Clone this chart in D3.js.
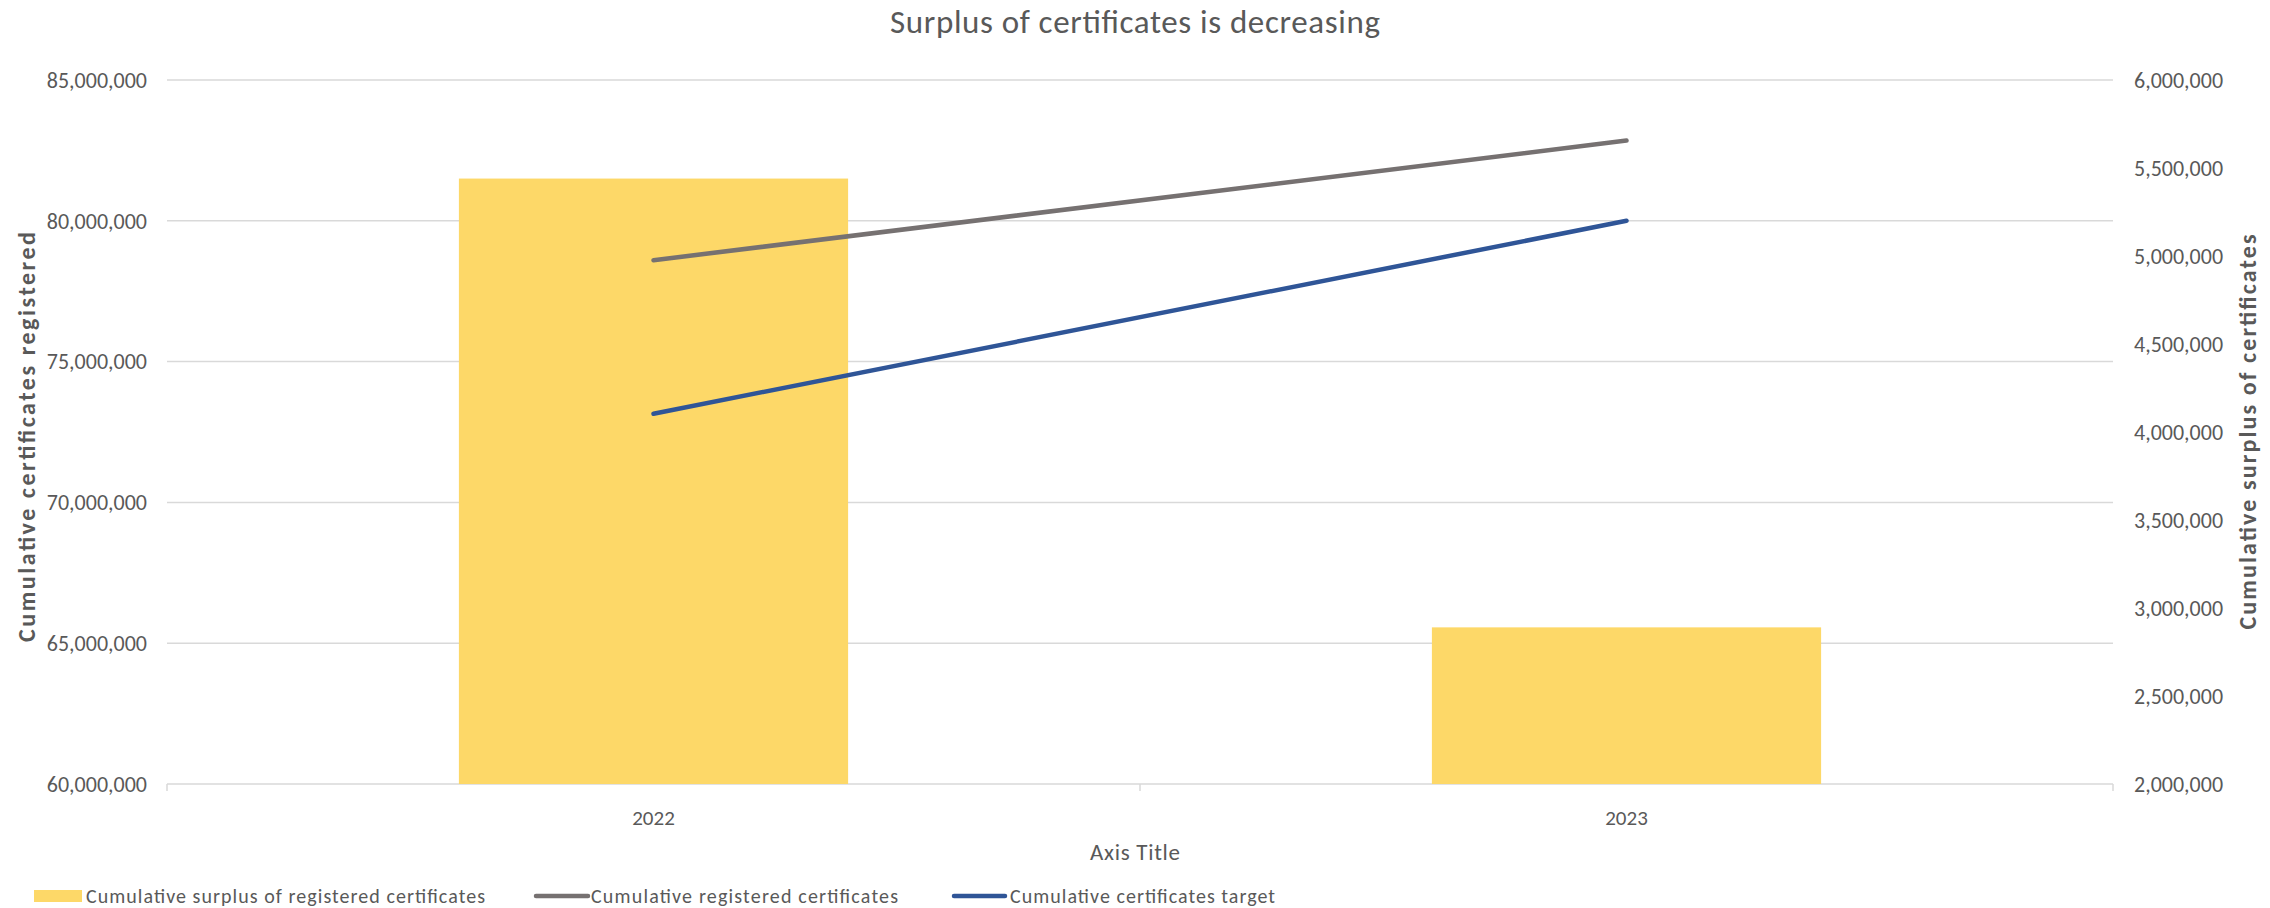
<!DOCTYPE html>
<html><head><meta charset="utf-8">
<script src="https://cdn.jsdelivr.net/npm/d3@7"></script>
<style>
html,body{margin:0;padding:0;background:#fff;}
text{font-family:Carlito,Calibri,Lato,sans-serif;fill:#595959;}
</style></head><body>
<svg id="chart" width="2270" height="908"></svg>
<script>
const categories = ["2022", "2023"];
const surplus = [5440000, 2890000];          // bars, right axis
const registered = [78600000, 82850000];     // grey line, left axis
const target = [73150000, 80000000];         // blue line, left axis
const leftTicks = [60000000, 65000000, 70000000, 75000000, 80000000, 85000000];
const rightTicks = [2000000, 2500000, 3000000, 3500000, 4000000, 4500000, 5000000, 5500000, 6000000];
const seriesNames = ["Cumulative surplus of registered certificates", "Cumulative registered certificates", "Cumulative certificates target"];
const colors = ["#FDD868", "#767171", "#2F5597"];

const W = 2270, H = 908;
const m = {left:167, right:W-2113, top:80, bottom:H-784};
const svg = d3.select("#chart");
const pw = W - m.left - m.right, ph = H - m.top - m.bottom;
const g = svg.append("g").attr("transform", `translate(${m.left},${m.top})`);

const x = d3.scaleBand().domain(categories).range([0, pw]).paddingInner(0).paddingOuter(0);
const yL = d3.scaleLinear().domain([60000000, 85000000]).range([ph, 0]);
const yR = d3.scaleLinear().domain([2000000, 6000000]).range([ph, 0]);
const fmt = d3.format(",");

// gridlines
g.append("g").selectAll("line").data(leftTicks).join("line")
  .attr("x1", 0).attr("x2", pw).attr("y1", d=>yL(d)).attr("y2", d=>yL(d))
  .attr("stroke", "#D9D9D9").attr("stroke-width", 1.5);

// x ticks
const xt = [0, x.step(), pw];
g.append("g").selectAll("line").data(xt).join("line")
  .attr("x1", d=>d).attr("x2", d=>d).attr("y1", ph).attr("y2", ph+7)
  .attr("stroke", "#D9D9D9").attr("stroke-width", 1.5);

// bars
const bw = x.bandwidth()*0.4;
g.append("g").selectAll("rect").data(categories).join("rect")
  .attr("x", d=>x(d)+x.bandwidth()/2-bw/2).attr("width", bw)
  .attr("y", (d,i)=>yR(surplus[i])).attr("height", (d,i)=>ph-yR(surplus[i]))
  .attr("fill", colors[0]);

// lines
const line = (arr) => d3.line().x((d,i)=>x(categories[i])+x.bandwidth()/2).y(d=>yL(d))(arr);
[[registered, colors[1]], [target, colors[2]]].forEach(([arr,c])=>{
  g.append("path").attr("d", line(arr)).attr("fill","none").attr("stroke", c)
   .attr("stroke-width", 4.5).attr("stroke-linecap","round");
});

// left axis labels
g.append("g").selectAll("text").data(leftTicks).join("text")
  .attr("x", -20).attr("y", d=>yL(d)).attr("dy","0.35em").attr("text-anchor","end")
  .attr("font-size", 22).text(d=>fmt(d));
// right axis labels
g.append("g").selectAll("text").data(rightTicks).join("text")
  .attr("x", pw+21).attr("y", d=>yR(d)).attr("dy","0.35em").attr("text-anchor","start")
  .attr("font-size", 22).text(d=>fmt(d));
// x labels
g.append("g").selectAll("text").data(categories).join("text")
  .attr("x", d=>x(d)+x.bandwidth()/2).attr("y", ph+34).attr("dy","0.35em")
  .attr("text-anchor","middle").attr("font-size", 21).text(d=>d);

// titles
svg.append("text").attr("x", 1135).attr("y", 33).attr("text-anchor","middle")
  .attr("font-size", 33).attr("font-weight", 300)
  .attr("textLength", 490).attr("lengthAdjust","spacing")
  .text("Surplus of certificates is decreasing");
svg.append("text").attr("x", 1135).attr("y", 852).attr("dy","0.35em").attr("text-anchor","middle")
  .attr("font-size", 23).attr("textLength", 90).attr("lengthAdjust","spacing").text("Axis Title");
svg.append("text").attr("transform", `translate(27,437) rotate(-90)`).attr("dy","0.35em")
  .attr("text-anchor","middle").attr("font-size", 24).attr("font-weight","bold")
  .attr("textLength", 410).attr("lengthAdjust","spacing").text("Cumulative certificates registered");
svg.append("text").attr("transform", `translate(2248,${m.top+ph/2}) rotate(-90)`).attr("dy","0.35em")
  .attr("text-anchor","middle").attr("font-size", 24).attr("font-weight","bold")
  .attr("textLength", 395).attr("lengthAdjust","spacing").text("Cumulative surplus of certificates");

// legend
const ly = 896;
const leg = svg.append("g");
const patchX = [34, 536, 954];
const patchW = [48, 52, 51];
const textX = [86, 591, 1010];
const textW = [399, 307, 265];
seriesNames.forEach((n,i)=>{
  if(i===0){
    leg.append("rect").attr("x", patchX[i]).attr("y", ly-6).attr("width", patchW[i]).attr("height", 12).attr("fill", colors[0]);
  } else {
    leg.append("line").attr("x1", patchX[i]).attr("x2", patchX[i]+patchW[i]).attr("y1", ly).attr("y2", ly)
      .attr("stroke", colors[i]).attr("stroke-width", 4.5).attr("stroke-linecap","round");
  }
  leg.append("text").attr("x", textX[i]).attr("y", ly).attr("dy","0.35em")
    .attr("font-size", 20).attr("textLength", textW[i]).attr("lengthAdjust","spacing").text(n);
});
</script>
</body></html>
